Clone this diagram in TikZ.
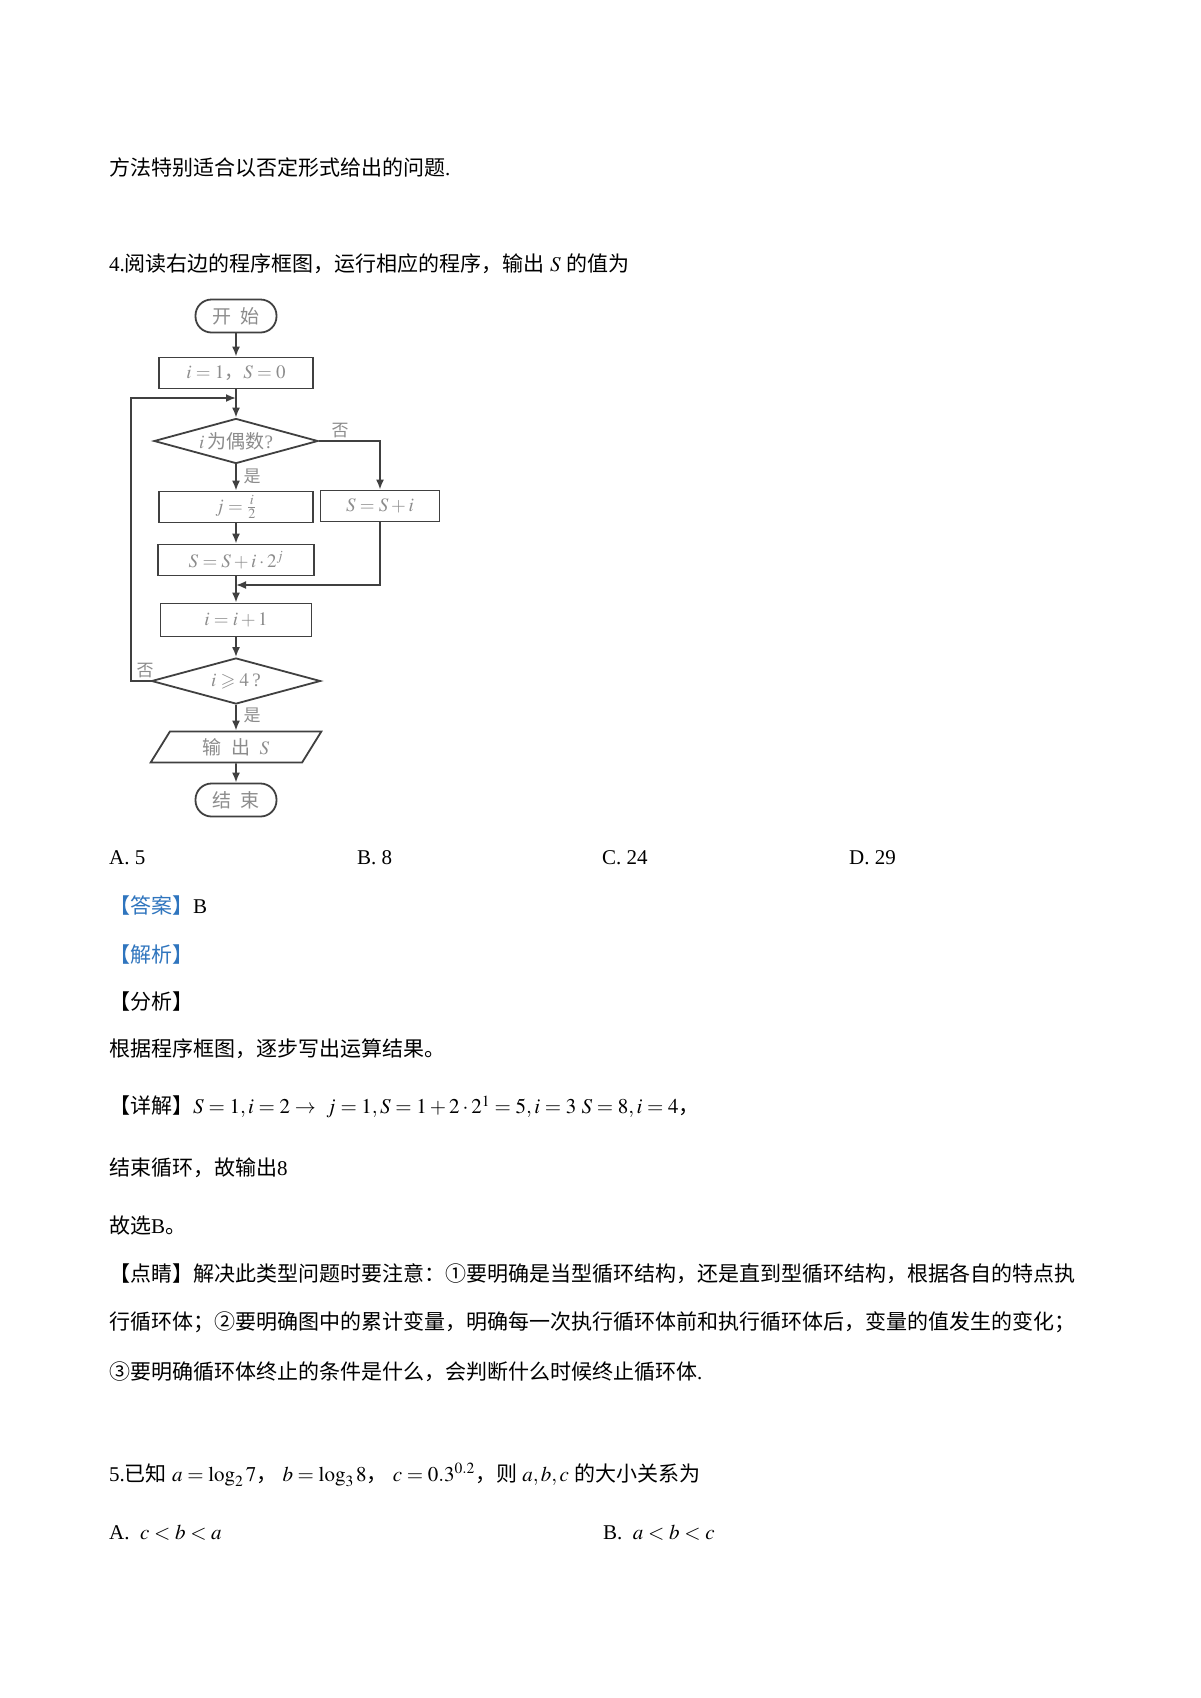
\documentclass[tikz,border=0pt]{standalone}
\usepackage{amssymb}
\usepackage{mathptmx}
\usepackage{fontspec}
\setmainfont{Liberation Serif}
\newfontfamily\cjk{Noto Sans CJK SC}
\usetikzlibrary{arrows.meta}
\usetikzlibrary{shapes.geometric}
\usetikzlibrary{positioning}
\newcommand\zh[1]{{\cjk #1}}
\definecolor{tagblue}{RGB}{47,117,190}
\definecolor{chartline}{gray}{0.25}
\definecolor{charttext}{gray}{0.55}
\tikzset{wire/.style = {draw=chartline, line width=1.8pt},
         flow/.style = {wire, -{Latex[length=10pt,width=8pt]}},
         proc/.style = {wire, rectangle, minimum height=31pt, inner sep=0pt,
                        text=charttext, font=\fontsize{19}{21}\selectfont},
         term/.style = {proc, rounded corners=16pt, minimum width=81pt, minimum height=33pt},
         test/.style = {proc, diamond, aspect=3.6},
         io/.style = {proc, trapezium, trapezium left angle=61, trapezium right angle=119,
                      trapezium stretches=true},
         yesno/.style = {inner sep=0pt, text=charttext, font=\fontsize{17}{19}\selectfont},
         textline/.style = {anchor=west, inner sep=0pt, font=\fontsize{21}{24}\selectfont}}

\begin{document}
\begin{tikzpicture}[x=1pt, y=-1pt]
      \path[use as bounding box, fill=white] (0,0) rectangle (1200,1698);
      \node[textline] (prev) at (109,168) {\zh{方法特别适合以否定形式给出的问题}.};
      \node[textline] (q4) at (109,264) {4.\zh{阅读右边的程序框图，运行相应的程序，输出} $S$ \zh{的值为}};

      \node[term] (start) at (236,316) {\zh{开\enspace 始}};
      \node[proc, minimum width=154pt] (init) at (236,373) {$i=1$\zh{，}$S=0$};
      \node[test, minimum width=164pt, minimum height=45pt] (even) at (236,441) {$i$\,\zh{为偶数}?};
      \node[proc, minimum width=154pt] (half) at (236,507) {$j=\frac{i}{2}$};
      \node[proc, minimum width=119pt] (odd) at (380,506) {$S=S+i$};
      \node[proc, minimum width=156pt] (sum) at (236,560) {$S=S+i\cdot 2^{j}$};
      \node[proc, minimum width=151pt, minimum height=33pt] (inc) at (236,620) {$i=i+1$};
      \node[test, minimum width=169pt, minimum height=46pt] (check) at (236,681) {$i\geqslant 4$\,?};
      \node[io, minimum width=171pt] (out) at (236,747) {\zh{输\enspace 出}\enspace $S$};
      \node[term] (stop) at (236,800) {\zh{结\enspace 束}};
      \coordinate (join) at (236,398);
      \coordinate (merge) at (236,585);
      \coordinate (back) at (131,681);

      \draw[flow] (start) -- (init);
      \draw[flow] (init) -- (even);
      \draw[flow] (even) -- (half);
      \draw[flow] (half) -- (sum);
      \draw[flow] (sum) -- (inc);
      \draw[flow] (inc) -- (check);
      \draw[flow] (check) -- (out);
      \draw[flow] (out) -- (stop);
      \draw[flow] (even.east) -| (odd.north);
      \draw[flow] (odd.south) |- (merge);
      \draw[flow] (check.west) -- (back) |- (join);
      \node[yesno] (no1) at (340,431) {\zh{否}};
      \node[yesno] (yes1) at (252,476) {\zh{是}};
      \node[yesno] (no2) at (145,671) {\zh{否}};
      \node[yesno] (yes2) at (252,715) {\zh{是}};

      \node[textline] (optA) at (109,858) {A. 5};
      \node[textline] (optB) at (357,858) {B. 8};
      \node[textline] (optC) at (602,858) {C. 24};
      \node[textline] (optD) at (849,858) {D. 29};
      \node[textline] (answer) at (109,906) {\textcolor{tagblue}{\zh{【答案】}}B};
      \node[textline] (jiexi) at (109,955) {\textcolor{tagblue}{\zh{【解析】}}};
      \node[textline] (fenxi) at (109,1002) {\zh{【分析】}};
      \node[textline] (fenxi1) at (109,1049) {\zh{根据程序框图，逐步写出运算结果。}};
      \node[textline] (xiangjie) at (109,1107) {\zh{【详解】}$S=1,i=2\rightarrow$\ \ $j=1,S=1+2\cdot 2^{1}=5,i=3$\ $S=8,i=4$\zh{，}};
      \node[textline] (xiangjie1) at (109,1168) {\zh{结束循环，故输出}8};
      \node[textline] (xiangjie2) at (109,1226) {\zh{故选}B\zh{。}};
      \node[textline] (dianjing1) at (109,1274) {\zh{【点睛】解决此类型问题时要注意：①要明确是当型循环结构，还是直到型循环结构，根据各自的特点执}};
      \node[textline] (dianjing2) at (109,1322) {\zh{行循环体；②要明确图中的累计变量，明确每一次执行循环体前和执行循环体后，变量的值发生的变化；}};
      \node[textline] (dianjing3) at (109,1372) {\zh{③要明确循环体终止的条件是什么，会判断什么时候终止循环体}.};
      \node[textline] (q5) at (109,1475) {5.\zh{已知} $a=\log_2 7$\zh{，} $b=\log_3 8$\zh{，} $c=0.3^{0.2}$\zh{，则} $a,b,c$ \zh{的大小关系为}};
      \node[textline] (q5A) at (109,1533) {A.\ \ $c<b<a$};
      \node[textline] (q5B) at (603,1533) {B.\ \ $a<b<c$};
    \end{tikzpicture}
\end{document}
